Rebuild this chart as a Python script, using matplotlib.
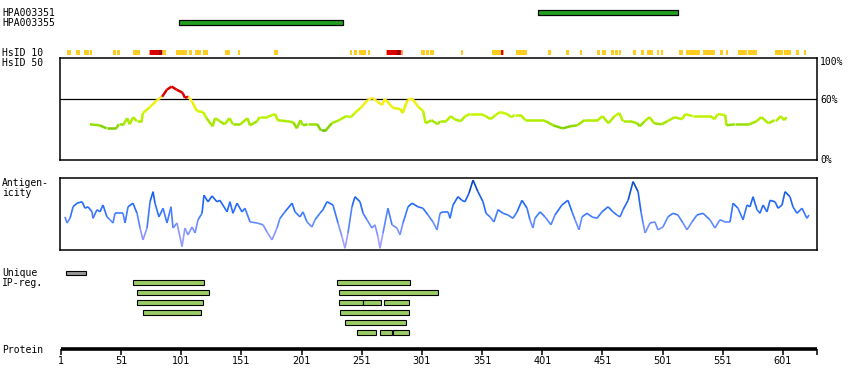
import matplotlib
matplotlib.use('Agg')
import matplotlib.pyplot as plt
import numpy as np
from matplotlib.collections import LineCollection
from matplotlib.colors import LinearSegmentedColormap, Normalize
from matplotlib.patches import Rectangle

# ---------------- data ----------------
protein_length = 629

antibody_names = ['HPA003351', 'HPA003355']
antibody_start = [397.4, 99.0]
antibody_end = [513.8, 235.4]

hsid10_start = [6.2, 13.2, 20.1, 25.1, 44.0, 47.8, 60.6, 74.1, 75.0, 82.4, 85.2, 86.0,
                96.6, 107.1, 112.1, 118.8, 137.3, 147.8, 177.8, 241.2, 244.5, 248.7,
                256.1, 271.1, 272.0, 280.5, 282.7, 283.8, 300.2, 304.3, 307.7, 333.4,
                359.1, 366.6, 368.2, 379.1, 405.7, 420.7, 432.3, 446.2, 450.6, 457.8,
                461.7, 464.9, 476.1, 482.7, 488.2, 496.0, 499.4, 514.8, 520.5, 534.8,
                548.7, 553.5, 563.5, 572.0, 575.3, 594.2, 601.7, 611.7, 618.3]
hsid10_end = [9.1, 16.8, 24.5, 26.8, 46.7, 50.0, 66.7, 75.0, 82.4, 85.2, 86.0, 88.3,
              105.5, 109.9, 117.6, 123.2, 141.4, 149.8, 181.1, 242.9, 247.0, 254.5,
              257.8, 272.0, 280.5, 282.7, 283.8, 285.0, 303.5, 306.8, 311.0, 335.1,
              366.6, 368.2, 369.1, 388.2, 408.2, 423.2, 434.0, 448.9, 454.0, 460.8,
              463.9, 466.6, 478.8, 485.5, 493.2, 498.2, 501.5, 518.2, 532.1, 544.8,
              551.2, 555.2, 571.5, 574.9, 579.5, 600.9, 607.5, 614.1, 620.0]
hsid10_level = ['y', 'y', 'y', 'y', 'y', 'y', 'y', 'o', 'r', 'd', 'o', 'y',
                'y', 'y', 'y', 'y', 'y', 'y', 'y', 'y', 'y', 'y',
                'y', 'o', 'r', 'd', 'r', 'o', 'y', 'y', 'y', 'y',
                'y', 'r', 'o', 'y', 'y', 'y', 'y', 'y', 'y', 'y',
                'y', 'y', 'y', 'y', 'y', 'y', 'y', 'y', 'y', 'y',
                'y', 'y', 'y', 'y', 'y', 'y', 'y', 'y', 'y']

hsid50_pos = [25, 33, 39, 47, 49, 53, 56, 58, 61, 64, 68, 69, 75, 81, 85, 89, 93, 97,
              102, 104, 107, 110, 114, 119, 122, 127, 129, 133, 137, 141, 144, 150,
              156, 158, 164, 166, 172, 179, 181, 189, 194, 197, 200,
              202, 206, 214, 217, 221, 226, 232, 238, 242, 245, 250, 256, 260, 264,
              268, 270, 277, 283, 285, 289, 293, 298, 302, 304, 309, 314, 316, 321,
              325, 328, 333, 337, 341, 350, 354, 358, 362, 366, 372, 375, 378, 383,
              387, 401, 404, 410, 418, 424, 430, 436, 447, 451, 456, 461, 465, 468,
              474, 480, 482, 486, 490, 494, 500, 505, 511, 517, 520, 526, 541, 544,
              547, 553, 554, 561, 573, 579, 583, 589, 594, 596, 599, 602, 604]
hsid50_val = [35, 34, 31, 31, 35, 35, 41, 35, 42, 38, 38, 46, 52, 59, 62, 69, 72, 69,
              66, 61, 62, 57, 48, 47, 41, 33, 41, 38, 35, 41, 35, 35,
              41, 34, 38, 42, 42, 45, 39, 38, 37, 31, 39,
              34, 35, 35, 29, 29, 36, 39, 43, 42, 46, 51, 59, 61, 57,
              54, 60, 51, 50, 46, 59, 60, 52, 48, 36, 39, 35, 38, 38,
              43, 40, 38, 43, 45, 45, 43, 40, 44, 47, 45, 42, 44, 44,
              39, 39, 38, 34, 31, 33, 34, 39, 39, 43, 36, 43, 46, 38,
              38, 36, 33, 38, 42, 36, 35, 38, 42, 40, 45, 43, 43, 40,
              45, 44, 34, 35, 35, 38, 42, 36, 39, 39, 43, 39, 42]

antigen_pos = [4.3, 6, 8.5, 11, 14.3, 18.5, 21, 23.4, 26.8, 27.6, 30.9, 33.4, 35.9,
               39.2, 41.7, 44.2, 45.9, 50, 52.5, 54.2, 56.7, 60.8, 64.2, 66.7, 69.1,
               72.5, 75, 77.5, 79.1, 82.4, 85.8, 89.1, 92.4, 94.1, 97.4, 101.6, 104,
               106.5, 109.9, 112.4, 114.9, 118.2, 119.8, 123.2, 126.5, 130.6, 133.1,
               139, 141.4, 143.9, 147.3, 151.4, 153.9, 158.1, 163.9, 168.9, 172.2,
               176.3, 180.5, 183, 187.1, 193, 195.5, 199.6, 202.1, 205.4, 209.6,
               212.1, 216.2, 218.7, 222.1, 227, 231.2, 234.5, 237, 239.5, 242.8,
               245.3, 249.5, 252, 255.3, 259.4, 261.9, 264.4, 266.1, 268.6, 272.7,
               276.1, 280.2, 282.7, 285.2, 289.4, 292.7, 297.7, 301.8, 306, 310.1,
               313.5, 316, 318.5, 322.6, 324.3, 326.8, 330.9, 334.2, 336.7, 340.1,
               343.4, 347.5, 351.7, 354.2, 357.5, 360.8, 364.2, 368.3, 372.5, 376.6,
               380, 384.1, 388.3, 390.7, 393.2, 394.9, 399.1, 403.2, 408.2, 411.5,
               417.3, 422.3, 425.7, 428.2, 431.5, 434, 438.1, 442.3, 446.4, 450.6,
               455.6, 459.7, 463, 465.6, 468.1, 472.3, 476.4, 480.6, 483, 484.7,
               486.4, 490.5, 494.6, 497.1, 501.3, 505.4, 509.6, 513.7, 517.9, 521.2,
               525.4, 529.5, 534.5, 540.3, 544.5, 548.6, 552.8, 557, 559.5, 563.6,
               567.8, 571.1, 573.6, 576.1, 579.4, 581.9, 584.4, 587.7, 590.2, 594.4,
               596.9, 600.2, 602.7, 606.8, 609.3, 612.6, 616.8, 620.9, 622.6]
antigen_val = [46, 37.5, 44, 60, 65, 67, 58, 60, 53, 44, 56, 53, 62.5,
               46, 42, 37.5, 51, 51, 51, 37.5, 60, 65, 51, 30.5, 14,
               30.5, 67, 81, 65, 46, 58, 37.5, 60, 30.5, 37.5, 4.6, 30.5,
               21, 32, 23.6, 42, 51, 76, 67, 75, 67, 69,
               53, 67, 51, 65, 53, 58, 39, 37.5, 35, 25,
               14, 30.5, 44, 53, 65, 53, 46, 53, 39, 32,
               42, 51, 56, 67, 62.5, 37.5, 18.5, 2.4, 23.6, 60,
               74, 67, 51, 42, 30.5, 35, 18.5, 2.4, 23.6, 58,
               35, 30.5, 21, 37.5, 60, 65, 60, 58, 48.6, 39,
               28, 51, 53, 53, 44, 62.5, 74, 69, 67, 79,
               97, 81, 67, 51, 46, 39, 56, 51, 48.6, 44,
               53, 69, 58, 42, 30.5, 44, 53, 46, 35, 48.6,
               62.5, 69, 53, 42, 28, 46, 51, 46, 44, 53,
               60, 53, 48.6, 46, 56, 69, 95, 81, 53, 37.5,
               23.6, 37.5, 39, 28, 32, 46, 51, 48.6, 37.5, 28,
               39, 48.6, 51, 42, 30.5, 42, 39, 39, 65, 58,
               42, 62.5, 60, 74, 56, 51, 62.5, 53, 69, 67,
               58, 62.5, 81, 74, 60, 51, 58, 44, 48.6]

unique_start = [5.4]
unique_end = [21.5]

ipreg_row = [1, 1, 2, 2, 3, 3, 3, 3, 4, 4, 5, 6, 6, 6]
ipreg_start = [61.1, 230.6, 64.4, 232.3, 64.4, 232.3, 251.7, 269.7, 69.4, 233.1,
               237.3, 247.2, 266.4, 277.2]
ipreg_end = [120.1, 291.3, 123.7, 314.0, 119.3, 252.2, 266.7, 290.5, 117.1, 290.5,
             287.5, 262.5, 275.8, 289.9]

tick_positions = [1, 51, 101, 151, 201, 251, 301, 351, 401, 451, 501, 551, 601]
tick_labels = [str(t) for t in tick_positions]

# ---------------- layout helpers ----------------
W, H = 850, 390
PX_PER_RES = 1.2033


def px2r(px):
    return 1 + (px - 61) / PX_PER_RES


def fig_rect(x0, y0, x1, y1):
    return [x0 / W, 1 - y1 / H, (x1 - x0) / W, (y1 - y0) / H]


mono = 'DejaVu Sans Mono'
fig = plt.figure(figsize=(W / 100, H / 100), dpi=100)
fig.patch.set_facecolor('white')

# overlay axes: x in residues, y in pixel rows
ax = fig.add_axes([0, 0, 1, 1])
ax.set_xlim(px2r(0), px2r(W))
ax.set_ylim(H, 0)
ax.axis('off')

# labels
lab_kw = dict(fontsize=7, family=mono, ha='left', va='center', color='black')
x_lab = px2r(2)
ax.text(x_lab, 12.5, antibody_names[0], **lab_kw)
ax.text(x_lab, 22.5, antibody_names[1], **lab_kw)
ax.text(x_lab, 52.5, 'HsID 10', **lab_kw)
ax.text(x_lab, 63, 'HsID 50', **lab_kw)
ax.text(x_lab, 183, 'Antigen-', **lab_kw)
ax.text(x_lab, 193, 'icity', **lab_kw)
ax.text(x_lab, 273, 'Unique', **lab_kw)
ax.text(x_lab, 283.5, 'IP-reg.', **lab_kw)
ax.text(x_lab, 350, 'Protein', **lab_kw)

x_right = px2r(820)
ax.text(x_right, 62, '100%', **lab_kw)
ax.text(x_right, 100, '60%', **lab_kw)
ax.text(x_right, 160, '0%', **lab_kw)

# antibody bars
for s, e, yc in zip(antibody_start, antibody_end, [12.5, 22.5]):
    ax.add_patch(Rectangle((s, yc - 2.5), e - s, 5, facecolor='#22a022',
                           edgecolor='black', linewidth=0.9))

# HsID 10 track
level_colors = {'y': '#ffcc22', 'r': '#dd0000', 'd': '#990000', 'o': '#ff9955'}
for s, e, lv in zip(hsid10_start, hsid10_end, hsid10_level):
    ax.add_patch(Rectangle((s, 50), e - s, 5, facecolor=level_colors[lv],
                           edgecolor='none'))

# unique + IP regions
for s, e in zip(unique_start, unique_end):
    ax.add_patch(Rectangle((s, 270.5), e - s, 4.2, facecolor='#999999',
                           edgecolor='black', linewidth=0.8))
for r, s, e in zip(ipreg_row, ipreg_start, ipreg_end):
    yc = 272.5 + 10 * r
    ax.add_patch(Rectangle((s, yc - 2.1), e - s, 4.2, facecolor='#99cc66',
                           edgecolor='black', linewidth=0.8))

# protein axis
ax.plot([1, protein_length], [349.3, 349.3], color='black', lw=2.6,
        solid_capstyle='butt')
ax.vlines(tick_positions + [protein_length], 349, 355, color='black', lw=1.1)
for t, lab in zip(tick_positions, tick_labels):
    ax.text(t, 361, lab, fontsize=7, ha='center', va='center', color='black',
            family='DejaVu Sans')

# HsID 50 panel
axh = fig.add_axes(fig_rect(60, 58, 817, 160))
axh.set_xlim(px2r(60), px2r(817))
axh.set_ylim(0, 100)
axh.set_facecolor('none')
axh.set_xticks([])
axh.set_yticks([])
for sp in axh.spines.values():
    sp.set_linewidth(1.1)
axh.axhline(60, color='black', lw=0.9)

hs_cmap = LinearSegmentedColormap.from_list(
    'hs', [(0.0, '#55aa00'), (0.15, '#77cc00'), (0.35, '#a8ea00'),
           (0.6, '#c8f800'), (0.8, '#eef000'), (1.0, '#ffee33')])
hs_norm = Normalize(25, 60)
hp = np.array(hsid50_pos, dtype=float)
hv = np.array(hsid50_val, dtype=float)
segs = np.stack([np.column_stack([hp[:-1], hv[:-1]]),
                 np.column_stack([hp[1:], hv[1:]])], axis=1)
mid = (hv[:-1] + hv[1:]) / 2
cols = [('#dd0000' if m > 60.5 else hs_cmap(hs_norm(m))) for m in mid]
axh.add_collection(LineCollection(segs, colors=cols, linewidths=1.8,
                                  capstyle='butt', joinstyle='miter'))

# Antigenicity panel
axa = fig.add_axes(fig_rect(60, 178, 817, 250))
axa.set_xlim(px2r(60), px2r(817))
axa.set_ylim(0, 100)
axa.set_facecolor('none')
axa.set_xticks([])
axa.set_yticks([])
for sp in axa.spines.values():
    sp.set_linewidth(1.1)

ag_cmap = LinearSegmentedColormap.from_list(
    'ag', [(0.0, '#b4a8ff'), (0.2, '#9098ff'), (0.4, '#5a88ff'),
           (0.55, '#2a70ff'), (0.75, '#1660ee'), (0.88, '#0a4cc0'), (1.0, '#00307a')])
ap = np.array(antigen_pos, dtype=float)
av = np.array(antigen_val, dtype=float)
segs2 = np.stack([np.column_stack([ap[:-1], av[:-1]]),
                  np.column_stack([ap[1:], av[1:]])], axis=1)
mid2 = (av[:-1] + av[1:]) / 2
cols2 = [ag_cmap(m / 100) for m in mid2]
axa.add_collection(LineCollection(segs2, colors=cols2, linewidths=1.2))

fig.savefig('out.png', dpi=100, facecolor='white')
